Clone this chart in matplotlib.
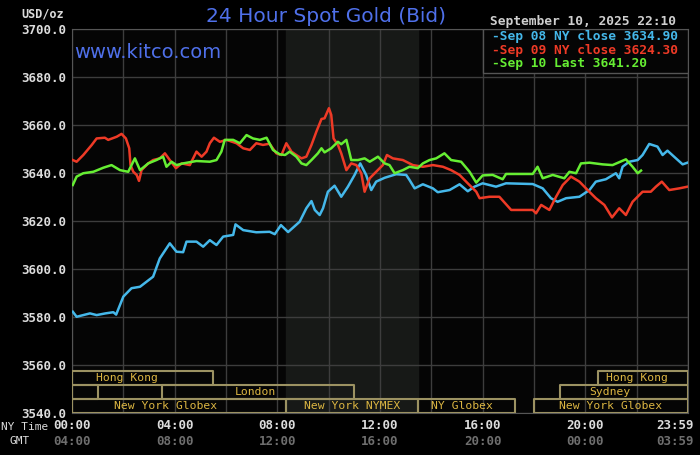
import matplotlib
matplotlib.use("Agg")
import matplotlib.pyplot as plt
from matplotlib.ticker import MultipleLocator
from matplotlib.transforms import ScaledTranslation

# hours (NY time) and bid prices
sep08_hours = [0.03, 0.18, 0.70, 0.96, 1.30, 1.61, 1.72, 2.0, 2.32, 2.65, 3.16, 3.42, 3.81, 4.07,
               4.33, 4.46, 4.85, 5.11, 5.37, 5.63, 5.89, 6.28, 6.37, 6.67, 7.18, 7.70, 7.90, 8.14,
               8.42, 8.87, 9.13, 9.33, 9.46, 9.65, 9.78, 9.97, 10.23, 10.49, 10.75, 11.01, 11.23,
               11.46, 11.66, 11.85, 12.18, 12.63, 13.02, 13.15, 13.35, 13.67, 14.06, 14.25, 14.71,
               15.1, 15.42, 15.68, 16.0, 16.52, 16.91, 17.95, 18.34, 18.66, 18.92, 19.25, 19.77,
               20.16, 20.41, 20.8, 21.19, 21.32, 21.45, 21.71, 22.04, 22.23, 22.49, 22.81, 23.01,
               23.20, 23.53, 23.79, 23.98]
sep08_price = [3582.2, 3580.1, 3581.5, 3580.8, 3581.5, 3582.0, 3581.0, 3588.5, 3592.0, 3592.6,
               3596.8, 3604.4, 3610.7, 3607.2, 3607.0, 3611.4, 3611.4, 3609.3, 3612.0, 3610.0,
               3613.5, 3614.2, 3618.6, 3616.2, 3615.3, 3615.5, 3614.5, 3618.3, 3615.4, 3619.7,
               3625.3, 3628.3, 3624.6, 3622.5, 3625.3, 3632.2, 3634.7, 3630.1, 3634.3, 3639.2,
               3644.0, 3639.2, 3632.9, 3636.4, 3638.0, 3639.5, 3639.2, 3637.1, 3633.6, 3635.3,
               3633.6, 3632.0, 3632.9, 3635.3, 3632.4, 3634.3, 3635.7, 3634.3, 3635.7, 3635.4,
               3633.6, 3629.5, 3628.0, 3629.5, 3630.1, 3632.9, 3636.4, 3637.4, 3639.9, 3637.8,
               3642.6, 3644.7, 3645.4, 3647.5, 3652.1, 3651.0, 3647.5, 3649.3, 3646.1, 3643.6,
               3644.3]

sep09_hours = [0.03, 0.18, 0.44, 0.77, 0.96, 1.28, 1.41, 1.74, 1.93, 2.1, 2.23, 2.28, 2.39, 2.52,
               2.61, 2.71, 2.97, 3.16, 3.42, 3.62, 3.81, 4.05, 4.27, 4.59, 4.85, 5.05, 5.24, 5.37,
               5.53, 5.76, 6.02, 6.41, 6.67, 6.93, 7.18, 7.44, 7.70, 7.96, 8.16, 8.35, 8.55, 8.74,
               8.94, 9.13, 9.33, 9.52, 9.72, 9.84, 10.01, 10.1, 10.19, 10.36, 10.49, 10.69, 10.88,
               11.08, 11.27, 11.4, 11.6, 11.85, 12.11, 12.27, 12.5, 12.89, 13.28, 13.67, 14.06,
               14.45, 14.77, 15.1, 15.42, 15.75, 15.88, 16.26, 16.65, 17.11, 17.95, 18.08, 18.28,
               18.6, 18.86, 19.12, 19.44, 19.77, 20.09, 20.41, 20.74, 21.04, 21.32, 21.58, 21.84,
               22.23, 22.55, 22.75, 22.98, 23.27, 23.66, 23.98]
sep09_price = [3645.4, 3644.7, 3647.5, 3651.7, 3654.4, 3654.7, 3653.8, 3655.1, 3656.3, 3654.4,
               3650.3, 3643.3, 3640.5, 3639.2, 3636.7, 3641.2, 3644.0, 3645.4, 3646.1, 3648.2,
               3645.4, 3642.0, 3644.0, 3643.3, 3648.9, 3646.8, 3648.9, 3652.4, 3654.7, 3653.0,
               3653.8, 3652.4, 3650.3, 3649.6, 3652.4, 3651.7, 3652.2, 3648.2, 3647.5, 3652.4,
               3648.9, 3647.5, 3646.1, 3646.8, 3651.7, 3657.2, 3662.5, 3662.8, 3667.0, 3664.2,
               3654.4, 3651.7, 3648.2, 3641.2, 3644.0, 3643.3, 3639.9, 3632.2, 3637.8, 3640.5,
               3643.3, 3647.5, 3646.1, 3645.4, 3643.3, 3642.6, 3643.3, 3642.6, 3641.2, 3639.2,
               3635.7, 3632.2, 3629.5, 3630.1, 3630.1, 3624.6, 3624.6, 3623.2, 3626.7, 3624.6,
               3630.1, 3635.0, 3638.5, 3636.4, 3632.9, 3629.5, 3626.7, 3621.5, 3625.3, 3622.5,
               3628.0, 3632.2, 3632.2, 3634.3, 3636.4, 3632.9, 3633.6, 3634.3]

sep10_hours = [0.03, 0.18, 0.44, 0.83, 1.22, 1.54, 1.87, 2.19, 2.45, 2.65, 2.97, 3.29, 3.55, 3.68,
               3.88, 4.07, 4.33, 4.85, 5.37, 5.63, 5.82, 5.95, 6.28, 6.54, 6.80, 7.05, 7.32, 7.58,
               7.83, 8.09, 8.30, 8.48, 8.74, 8.94, 9.13, 9.33, 9.58, 9.72, 9.84, 10.1, 10.36, 10.49,
               10.69, 10.88, 11.14, 11.40, 11.6, 11.92, 12.18, 12.37, 12.57, 12.89, 13.15, 13.47,
               13.67, 13.93, 14.19, 14.51, 14.77, 15.16, 15.49, 15.75, 16.0, 16.39, 16.78, 16.91,
               17.95, 18.14, 18.34, 18.73, 19.18, 19.38, 19.64, 19.83, 20.16, 20.67, 21.06, 21.58,
               21.84, 22.04, 22.17]
sep10_price = [3635.0, 3638.5, 3639.9, 3640.5, 3642.2, 3643.3, 3641.2, 3640.5, 3646.1, 3641.2,
               3644.0, 3645.4, 3646.8, 3642.6, 3644.7, 3643.3, 3644.0, 3645.0, 3644.7, 3645.4,
               3648.9, 3653.8, 3653.8, 3652.4, 3655.8, 3654.4, 3653.8, 3654.7, 3649.6, 3647.8,
               3647.5, 3648.9, 3646.8, 3644.0, 3643.3, 3645.4, 3648.2, 3650.3, 3648.6, 3650.3,
               3653.0, 3652.0, 3653.8, 3645.4, 3645.4, 3646.1, 3644.7, 3646.8, 3644.0, 3643.3,
               3639.9, 3641.2, 3642.6, 3642.0, 3644.0, 3645.4, 3646.1, 3648.2, 3645.4, 3644.7,
               3640.5, 3636.0, 3639.0, 3639.2, 3637.4, 3639.6, 3639.6, 3642.6, 3637.8, 3639.2,
               3637.8, 3640.5, 3639.9, 3644.0, 3644.3, 3643.6, 3643.3, 3645.7, 3642.6, 3639.9,
               3641.0]

legend_labels = ["Sep 08 NY close 3634.90", "Sep 09 NY close 3624.30", "Sep 10 Last 3641.20"]
line_colors = ["#45b8ea", "#ee3a26", "#66ee33"]

ny_ticks = [0, 4, 8, 12, 16, 20, 24 - 1 / 60]
ny_labels = ["00:00", "04:00", "08:00", "12:00", "16:00", "20:00", "23:59"]
gmt_labels = ["04:00", "08:00", "12:00", "16:00", "20:00", "00:00", "03:59"]

# market sessions: (start hour, length) per row, plus label and label centre
row_bottom = [3551.7, 3545.8, 3540.0]
row_height = 5.9
sessions = [
    [(0, 5.5), (20.5, 3.5)],
    [(0, 1.0), (3.5, 7.5), (19.0, 5.0)],
    [(0, 8.333), (8.333, 5.167), (13.5, 3.75), (18.0, 6.0)],
]
session_labels = [
    [("Hong Kong", 2.14), ("Hong Kong", 22.0)],
    [("London", 7.16), ("Sydney", 20.97)],
    [("New York Globex", 3.66), ("New York NYMEX", 10.9), ("NY Globex", 15.2),
     ("New York Globex", 20.97)],
]
nymex_open, nymex_close = 8.333, 13.5

mono = "DejaVu Sans Mono"
blue_txt = "#4f70ea"

fig = plt.figure(figsize=(7, 4.55), dpi=100, facecolor="black")
ax = fig.add_axes([72 / 700, 1 - 413 / 455, 616 / 700, 384 / 455])
ax.set_facecolor("#050505")

ax.axvspan(nymex_open, nymex_close, color="#171917", zorder=0)

ax.set_xlim(0, 24)
ax.set_ylim(3540, 3700)
ax.xaxis.set_minor_locator(MultipleLocator(2))
ax.yaxis.set_major_locator(MultipleLocator(20))
ax.grid(True, which="both", color="#3d3d3d", linewidth=1, zorder=1)
ax.set_axisbelow(True)

for sp in ax.spines.values():
    sp.set_color("#555555")

ax.set_yticks(range(3540, 3701, 20))
ax.set_yticklabels([f"{v:.1f}" for v in range(3540, 3701, 20)])
ax.set_xticks(ny_ticks)
ax.set_xticklabels(ny_labels)
ax.tick_params(axis="both", length=0, colors="#dcdcdc", labelsize=9)
ax.tick_params(axis="y", pad=4.5)
ax.tick_params(axis="x", pad=4)
for lab in ax.get_xticklabels() + ax.get_yticklabels():
    lab.set_fontfamily(mono)
    lab.set_fontweight("bold")

# last label sits left of the right edge, as in the original
shift = ScaledTranslation(-13 / 100, 0, fig.dpi_scale_trans)
last = ax.get_xticklabels()[-1]
last.set_transform(last.get_transform() + shift)

for i, (x, g) in enumerate(zip(ny_ticks, gmt_labels)):
    tr = ax.get_xaxis_transform()
    if i == len(ny_ticks) - 1:
        tr = tr + shift
    ax.text(x, -0.073, g, transform=tr, ha="center", va="center",
            family=mono, fontsize=9, fontweight="bold", color="#6e6e6e")
fig.text(1 / 700, 1 - 427 / 455, "NY Time", ha="left", va="center", family=mono,
         fontsize=8, color="#dcdcdc")
fig.text(20 / 700, 1 - 441 / 455, "GMT", ha="center", va="center", family=mono,
         fontsize=8, color="#dcdcdc")

# sessions
for bottom, bars, labels in zip(row_bottom, sessions, session_labels):
    ax.broken_barh(bars, (bottom, row_height), facecolors="none", edgecolors="#9c9262",
                   linewidth=1.5, zorder=3)
    for name, xc in labels:
        ax.text(xc, bottom + row_height / 2, name, ha="center", va="center", family=mono,
                fontsize=8.2, color="#dcb642", zorder=4)

ax.plot(sep08_hours, sep08_price, color=line_colors[0], lw=1.8, zorder=5)
ax.plot(sep09_hours, sep09_price, color=line_colors[1], lw=1.8, zorder=6)
ax.plot(sep10_hours, sep10_price, color=line_colors[2], lw=1.8, zorder=7)

# legend box
box = plt.Rectangle((411 / 616, 1 - 44 / 384), 205 / 616, 44 / 384, transform=ax.transAxes,
                    facecolor="#050505", edgecolor="#555555", lw=1, zorder=8)
ax.add_patch(box)
for i, (lab, c) in enumerate(zip(legend_labels, line_colors)):
    ax.text(420 / 616, 1 - (7.7 + 13.6 * i) / 384, "-" + lab, transform=ax.transAxes,
            ha="left", va="center", family=mono, fontsize=9.3, fontweight="bold", color=c,
            zorder=9)

fig.text(583 / 700, 1 - 21 / 455, "September 10, 2025 22:10", ha="center", va="center",
         family=mono, fontsize=9.3, fontweight="bold", color="#cfcfcf")
fig.text(326 / 700, 1 - 17 / 455, "24 Hour Spot Gold (Bid)", ha="center", va="center",
         family="DejaVu Sans", fontsize=14.5, color=blue_txt)
fig.text(74 / 700, 1 - 53 / 455, "www.kitco.com", ha="left", va="center",
         family="DejaVu Sans", fontsize=14, color=blue_txt)
fig.text(43 / 700, 1 - 14 / 455, "USD/oz", ha="center", va="center", family=mono,
         fontsize=8.5, fontweight="bold", color="#dcdcdc")

fig.savefig("out.png", dpi=100, facecolor="black")
